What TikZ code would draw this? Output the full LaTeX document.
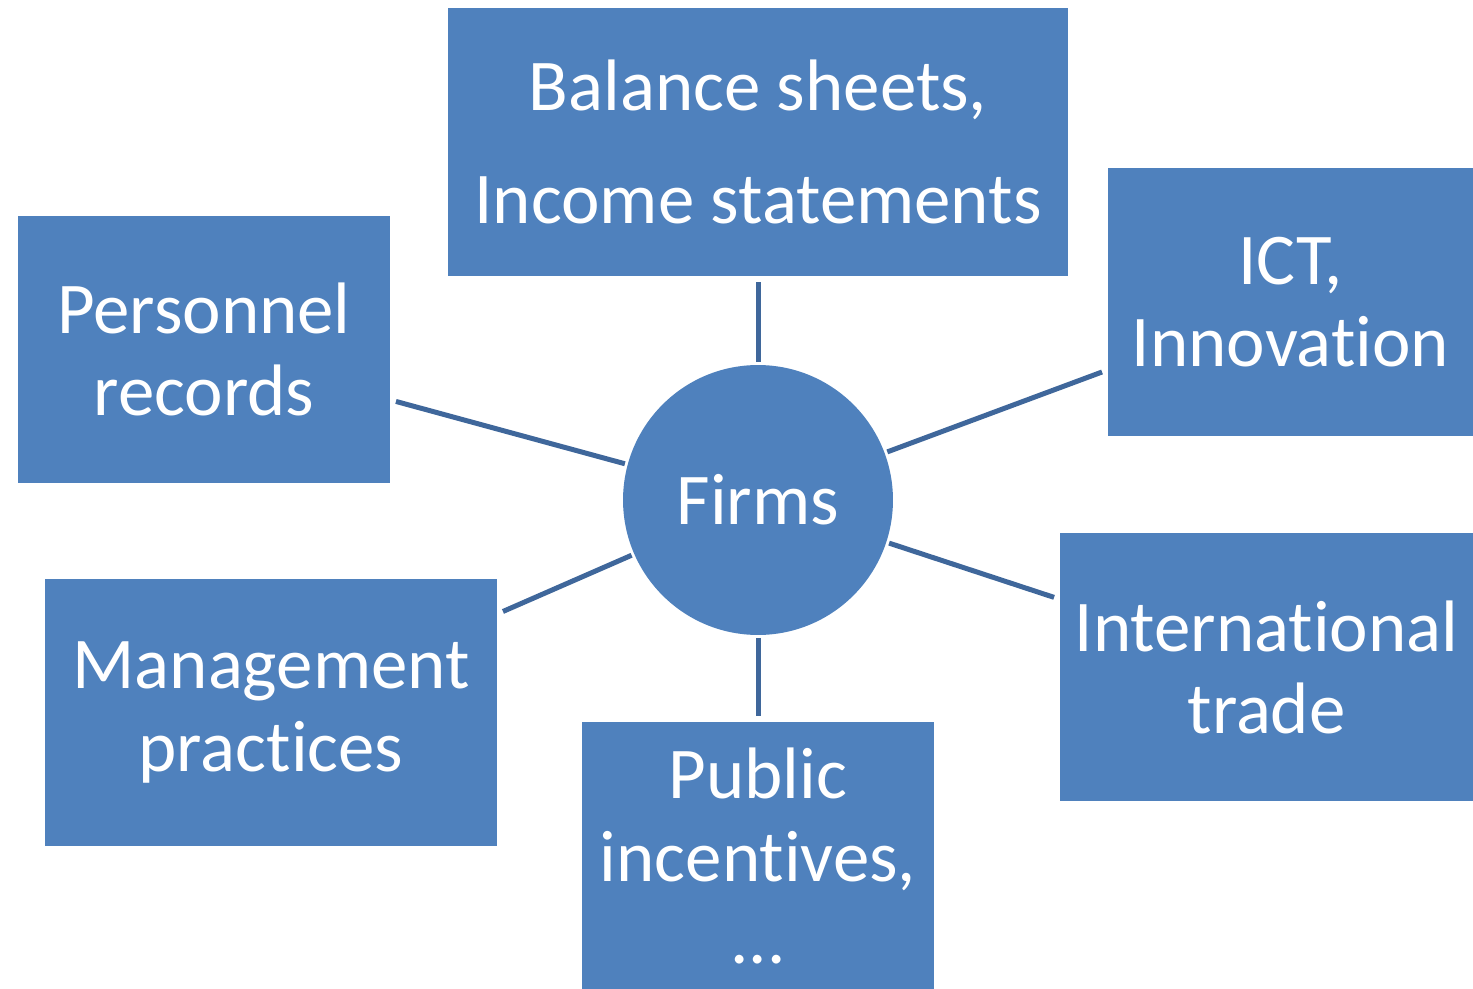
\documentclass[tikz,border=0pt]{standalone}
\usepackage{fontspec}
\setmainfont{Carlito}[Ligatures=NoCommon,RawFeature={-calt;-dlig}]
\definecolor{boxblue}{HTML}{4F81BD}
\definecolor{spokeblue}{HTML}{3F679B}
\tikzstyle{topic}=[rectangle,fill=boxblue,text=white,align=center,inner sep=0pt,outer sep=0.12cm,minimum height=5.36cm,font=\fontsize{41.5}{46.7}\selectfont]
\tikzstyle{hub}=[circle,fill=boxblue,text=white,inner sep=0pt,outer sep=0.06cm,minimum size=5.4cm,font=\fontsize{41.5}{46.7}\selectfont]
\tikzstyle{spoke}=[draw=spokeblue,line width=0.1cm]
\begin{document}
\begin{tikzpicture}[x=0.02cm,y=-0.02cm] % coordinates in pixels of the original
	\useasboundingbox (0,0) rectangle (1473,989);
	\node[hub] (firms) at (758,500) {Firms};
	\node[topic,minimum width=12.4cm,font=\fontsize{41.5}{64.5}\selectfont] (bal) at (758,142) {Balance sheets,\\Income statements};
	\node[topic,minimum width=7.3cm] (ict) at (1290.5,302) {ICT,\\Innovation};
	\node[topic,minimum width=8.26cm] (intl) at (1266.5,667) {International\\trade};
	\node[topic,minimum width=7.04cm] (pub) at (758,856) {Public\\incentives,\\...};
	\node[topic,minimum width=9.04cm] (mgmt) at (271,712.5) {Management\\practices};
	\node[topic,minimum width=7.44cm] (pers) at (204,349.5) {Personnel\\records};
	\foreach \topicname in {bal,ict,intl,pub,mgmt,pers}
		\draw[spoke] (firms) -- (\topicname);
\end{tikzpicture}
\end{document}
